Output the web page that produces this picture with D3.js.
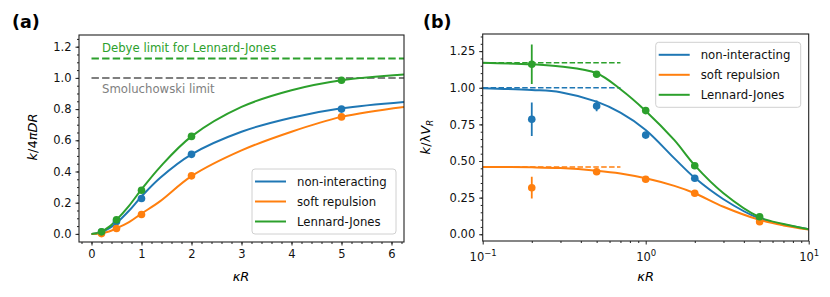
<!DOCTYPE html>
<html>
<head>
<meta charset="utf-8">
<script src="https://cdn.jsdelivr.net/npm/d3@7"></script>
<style>
  body { margin: 0; background: #fff; }
  svg { font-family: "DejaVu Sans", sans-serif; }
</style>
</head>
<body>
<svg id="chart" width="830" height="297"></svg>
<script>
// series names and colours (matplotlib tab10)
var groups = ["non-interacting", "soft repulsion", "Lennard-Jones"];
var colors = ["#1f77b4", "#ff7f0e", "#2ca02c"];

// simulation points, both panels
var kRPoints = [0.2, 0.5, 1, 2, 5];

// panel (a): k / 4 pi D R
var aPtsNonInt = [0.012, 0.08, 0.227, 0.51, 0.80];
var aPtsSoft = [0.002, 0.035, 0.124, 0.372, 0.75];
var aPtsLJ = [0.013, 0.09, 0.28, 0.625, 0.985];

var aCurveX = [0, 0.1, 0.2, 0.35, 0.5, 0.75, 1, 1.375, 2, 3, 4, 5, 6.25];
var aCurveNonInt = [0, 0.003, 0.012, 0.035, 0.07, 0.148, 0.24, 0.36, 0.51, 0.655, 0.745, 0.805, 0.846];
var aCurveSoft = [0, 0.001, 0.005, 0.015, 0.035, 0.075, 0.13, 0.21, 0.37, 0.535, 0.655, 0.75, 0.814];
var aCurveLJ = [0, 0.004, 0.015, 0.045, 0.09, 0.18, 0.285, 0.43, 0.625, 0.814, 0.921, 0.985, 1.022];

var smolLimit = 1.0;
var debyeLJ = 1.124;

// panel (b): k / lambda V_R
var bPtsNonInt = [0.785, 0.876, 0.677, 0.382, 0.105];
var bErrNonInt = [0.115, 0.037, 0.01, 0.01, 0.005];
var bPtsSoft = [0.318, 0.427, 0.375, 0.28, 0.086];
var bErrSoft = [0.074, 0.01, 0.008, 0.006, 0.004];
var bPtsLJ = [1.16, 1.092, 0.844, 0.468, 0.12];
var bErrLJ = [0.135, 0.02, 0.01, 0.008, 0.004];

var bCurveX = [0.1, 0.2, 0.3, 0.5, 0.7, 1, 1.5, 2, 3, 5, 7, 10];
var bCurveNonInt = [0.997, 0.985, 0.97, 0.905, 0.83, 0.712, 0.518, 0.385, 0.239, 0.107, 0.066, 0.034];
var bCurveSoft = [0.459, 0.457, 0.452, 0.434, 0.415, 0.382, 0.33, 0.28, 0.188, 0.098, 0.06, 0.032];
var bCurveLJ = [1.171, 1.16, 1.145, 1.099, 0.99, 0.842, 0.642, 0.47, 0.28, 0.116, 0.07, 0.034];

var bLimits = [1.0, 0.459, 1.171];
var bLimitRange = [0.1, 0.7];

var aTicksX = [0, 1, 2, 3, 4, 5, 6];
var aTicksY = [0.0, 0.2, 0.4, 0.6, 0.8, 1.0, 1.2];
var bTicksY = [0.00, 0.25, 0.50, 0.75, 1.00, 1.25];
var bTicksX = [0.1, 1, 10];

var svg = d3.select("#chart");

function zip(xs, ys) {
  return xs.map(function(x, i) { return [x, ys[i]]; });
}

function frame(g, x, y, clipId) {
  var r = x.range(), h = y.range();
  g.append("clipPath").attr("id", clipId)
    .append("rect")
      .attr("x", r[0]).attr("y", h[1])
      .attr("width", r[1] - r[0]).attr("height", h[0] - h[1]);
  return g.append("g").attr("clip-path", "url(#" + clipId + ")");
}

function box(g, x, y) {
  var r = x.range(), h = y.range();
  g.append("rect")
    .attr("x", r[0]).attr("y", h[1])
    .attr("width", r[1] - r[0]).attr("height", h[0] - h[1])
    .attr("fill", "none").attr("stroke", "#222").attr("stroke-width", 1.1);
}

function legend(g, x0, y0, w, h) {
  g.append("rect")
    .attr("x", x0).attr("y", y0).attr("width", w).attr("height", h)
    .attr("rx", 3)
    .attr("fill", "white").attr("fill-opacity", 0.85)
    .attr("stroke", "#d0d0d0");
  groups.forEach(function(name, i) {
    var yy = y0 + 12.5 + i * 20;
    g.append("line")
      .attr("x1", x0 + 3).attr("x2", x0 + 34)
      .attr("y1", yy).attr("y2", yy)
      .attr("stroke", colors[i]).attr("stroke-width", 2);
    g.append("text")
      .attr("x", x0 + 45).attr("y", yy + 4)
      .attr("font-size", 11.7).attr("fill", "#111")
      .text(name);
  });
}

var line = function(x, y) {
  return d3.line()
    .x(function(d) { return x(d[0]); })
    .y(function(d) { return y(d[1]); })
    .curve(d3.curveCatmullRom.alpha(0.5));
};

// ---------------- panel (a) ----------------
var xa = d3.scaleLinear().domain([-0.25, 6.25]).range([79, 404]);
var ya = d3.scaleLinear().domain([-0.052, 1.275]).range([242, 35]);
var ga = svg.append("g");

ga.append("g")
  .attr("transform", "translate(0,242)")
  .call(d3.axisBottom(xa).tickValues(d3.range(-0.2, 6.21, 0.2)).tickSize(2).tickFormat(""))
  .call(function(s) { s.select(".domain").remove(); });
ga.append("g")
  .attr("transform", "translate(0,242)")
  .call(d3.axisBottom(xa).tickValues(aTicksX).tickSize(3.5).tickPadding(4).tickFormat(d3.format("d")))
  .call(function(s) { s.select(".domain").remove(); });
ga.append("g")
  .attr("transform", "translate(79,0)")
  .call(d3.axisLeft(ya).tickValues(d3.range(0, 1.26, 0.05)).tickSize(2).tickFormat(""))
  .call(function(s) { s.select(".domain").remove(); });
ga.append("g")
  .attr("transform", "translate(79,0)")
  .call(d3.axisLeft(ya).tickValues(aTicksY).tickSize(3.5).tickPadding(4).tickFormat(d3.format(".1f")))
  .call(function(s) { s.select(".domain").remove(); });

var pa = frame(ga, xa, ya, "clipA");

pa.append("line")
  .attr("x1", xa(0)).attr("x2", xa(6.25))
  .attr("y1", ya(debyeLJ)).attr("y2", ya(debyeLJ))
  .attr("stroke", colors[2]).attr("stroke-width", 2).attr("stroke-dasharray", "7.4,3.2");
pa.append("line")
  .attr("x1", xa(0)).attr("x2", xa(6.25))
  .attr("y1", ya(smolLimit)).attr("y2", ya(smolLimit))
  .attr("stroke", "#7f7f7f").attr("stroke-width", 2).attr("stroke-dasharray", "7.4,3.2");

var aCurves = [aCurveNonInt, aCurveSoft, aCurveLJ];
var aPts = [aPtsNonInt, aPtsSoft, aPtsLJ];
aCurves.forEach(function(c, i) {
  pa.append("path")
    .attr("d", line(xa, ya)(zip(aCurveX, c)))
    .attr("fill", "none").attr("stroke", colors[i]).attr("stroke-width", 2);
});
aPts.forEach(function(p, i) {
  pa.selectAll(null).data(zip(kRPoints, p)).enter().append("circle")
    .attr("cx", function(d) { return xa(d[0]); })
    .attr("cy", function(d) { return ya(d[1]); })
    .attr("r", 3.8).attr("fill", colors[i]);
});

ga.append("text").attr("x", 102).attr("y", 52).attr("font-size", 11.7)
  .attr("fill", colors[2]).text("Debye limit for Lennard-Jones");
ga.append("text").attr("x", 102).attr("y", 93).attr("font-size", 11.7)
  .attr("fill", "#7f7f7f").text("Smoluchowski limit");

box(ga, xa, ya);
legend(ga, 252, 169, 144, 65);

ga.append("text").attr("x", 12).attr("y", 28).attr("font-size", 17.5)
  .attr("font-weight", "bold").text("(a)");

ga.append("text").attr("x", 241).attr("y", 281).attr("text-anchor", "middle")
  .attr("font-size", 13).attr("font-style", "italic").text("κR");

var yla = ga.append("text")
  .attr("transform", "translate(37,137) rotate(-90)")
  .attr("text-anchor", "middle").attr("font-size", 13).attr("font-style", "italic");
yla.append("tspan").text("k");
yla.append("tspan").attr("font-style", "normal").text("/4");
yla.append("tspan").text("πDR");

// ---------------- panel (b) ----------------
var xb = d3.scaleLog().domain([0.1, 10]).range([482.7, 808.7]);
var yb = d3.scaleLinear().domain([-0.046, 1.367]).range([241, 34]);
var gb = svg.append("g");

var minorLog = [];
[0.1, 1].forEach(function(dec) {
  for (var k = 2; k <= 9; k++) minorLog.push(dec * k);
});
gb.append("g")
  .attr("transform", "translate(0,241)")
  .call(d3.axisBottom(xb).tickValues(minorLog).tickSize(2).tickFormat(""))
  .call(function(s) { s.select(".domain").remove(); });
var xbAxis = gb.append("g")
  .attr("transform", "translate(0,241)")
  .call(d3.axisBottom(xb).tickValues(bTicksX).tickSize(3.5).tickPadding(4).tickFormat(""))
  .call(function(s) { s.select(".domain").remove(); });
xbAxis.selectAll(".tick").each(function(d) {
  var t = d3.select(this).append("text")
    .attr("y", 20).attr("fill", "#111").attr("font-size", 11.5)
    .attr("text-anchor", "middle");
  t.append("tspan").text("10");
  t.append("tspan").attr("dy", -5).attr("font-size", 8.5).text(String(Math.round(Math.log10(d))).replace("-", "−"));
});
gb.append("g")
  .attr("transform", "translate(482.7,0)")
  .call(d3.axisLeft(yb).tickValues(d3.range(0, 1.351, 0.05)).tickSize(2).tickFormat(""))
  .call(function(s) { s.select(".domain").remove(); });
gb.append("g")
  .attr("transform", "translate(482.7,0)")
  .call(d3.axisLeft(yb).tickValues(bTicksY).tickSize(3.5).tickPadding(4).tickFormat(d3.format(".2f")))
  .call(function(s) { s.select(".domain").remove(); });

var pb = frame(gb, xb, yb, "clipB");

bLimits.forEach(function(v, i) {
  pb.append("line")
    .attr("x1", xb(bLimitRange[0])).attr("x2", xb(bLimitRange[1]))
    .attr("y1", yb(v)).attr("y2", yb(v))
    .attr("stroke", colors[i]).attr("stroke-width", 1.5).attr("stroke-dasharray", "5.5,2.4");
});

var bCurves = [bCurveNonInt, bCurveSoft, bCurveLJ];
var bPts = [bPtsNonInt, bPtsSoft, bPtsLJ];
var bErr = [bErrNonInt, bErrSoft, bErrLJ];
bCurves.forEach(function(c, i) {
  pb.append("path")
    .attr("d", line(xb, yb)(zip(bCurveX, c)))
    .attr("fill", "none").attr("stroke", colors[i]).attr("stroke-width", 2);
});
bPts.forEach(function(p, i) {
  var pts = kRPoints.map(function(x, j) { return [x, p[j], bErr[i][j]]; });
  pb.selectAll(null).data(pts).enter().append("line")
    .attr("x1", function(d) { return xb(d[0]); })
    .attr("x2", function(d) { return xb(d[0]); })
    .attr("y1", function(d) { return yb(d[1] - d[2]); })
    .attr("y2", function(d) { return yb(d[1] + d[2]); })
    .attr("stroke", colors[i]).attr("stroke-width", 1.8);
  pb.selectAll(null).data(pts).enter().append("circle")
    .attr("cx", function(d) { return xb(d[0]); })
    .attr("cy", function(d) { return yb(d[1]); })
    .attr("r", 3.8).attr("fill", colors[i]);
});

box(gb, xb, yb);
legend(gb, 655.7, 42.3, 145, 65);

gb.append("text").attr("x", 423).attr("y", 28).attr("font-size", 17.5)
  .attr("font-weight", "bold").text("(b)");

gb.append("text").attr("x", 645.7).attr("y", 281).attr("text-anchor", "middle")
  .attr("font-size", 13).attr("font-style", "italic").text("κR");

var ylb = gb.append("text")
  .attr("transform", "translate(430,137) rotate(-90)")
  .attr("text-anchor", "middle").attr("font-size", 13).attr("font-style", "italic");
ylb.append("tspan").text("k");
ylb.append("tspan").attr("font-style", "normal").text("/λ");
ylb.append("tspan").text("V");
ylb.append("tspan").attr("dy", 3).attr("font-size", 9).text("R");

// tick text colour
svg.selectAll(".tick text").attr("fill", "#111").attr("font-family", "DejaVu Sans, sans-serif");
svg.selectAll(".tick text:not([font-size])").attr("font-size", 11.5);
svg.selectAll(".tick line").attr("stroke", "#222");
</script>
</body>
</html>
